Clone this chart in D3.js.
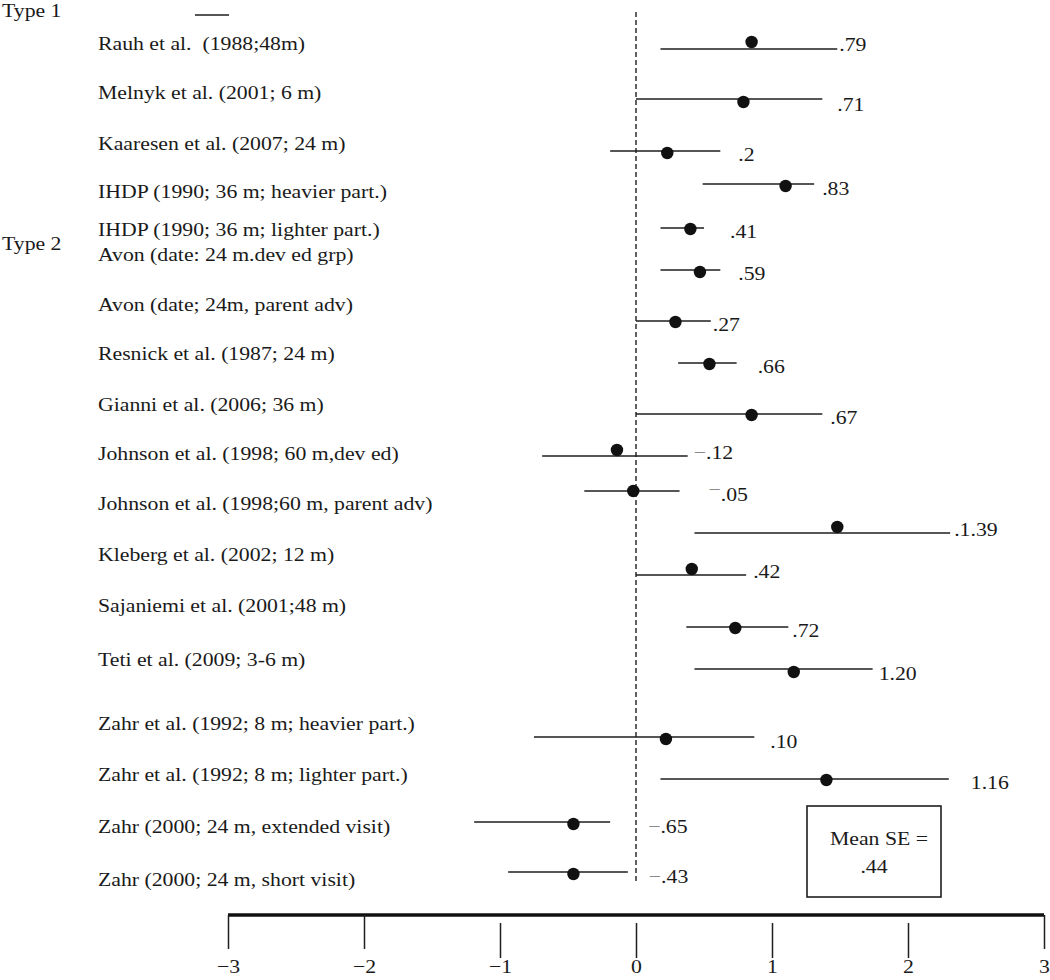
<!DOCTYPE html>
<html>
<head>
<meta charset="utf-8">
<script src="https://cdn.jsdelivr.net/npm/d3@7"></script>
<style>
  html, body { margin: 0; padding: 0; background: #fff; }
  svg { display: block; }
  text { font-family: "Liberation Serif", "Times New Roman", serif; fill: #1a1a1a; }
</style>
</head>
<body>
<svg id="chart" width="1050" height="980"></svg>
<script>
// ---------- data ----------
const groupLabels = ["Type 1", "Type 2"];
const studyLabels = [
  "Rauh et al.  (1988;48m)",
  "Melnyk et al. (2001; 6 m)",
  "Kaaresen et al. (2007; 24 m)",
  "IHDP (1990; 36 m; heavier part.)",
  "IHDP (1990; 36 m; lighter part.)",
  "Avon (date: 24 m.dev ed grp)",
  "Avon (date; 24m, parent adv)",
  "Resnick et al. (1987; 24 m)",
  "Gianni et al. (2006; 36 m)",
  "Johnson et al. (1998; 60 m,dev ed)",
  "Johnson et al. (1998;60 m, parent adv)",
  "Kleberg et al. (2002; 12 m)",
  "Sajaniemi et al. (2001;48 m)",
  "Teti et al. (2009; 3-6 m)",
  "Zahr et al. (1992; 8 m; heavier part.)",
  "Zahr et al. (1992; 8 m; lighter part.)",
  "Zahr (2000; 24 m, extended visit)",
  "Zahr (2000; 24 m, short visit)"
];
// point estimates and interval ends as drawn (effect size units)
const estimates = [0.85, 0.79, 0.23, 1.10, 0.40, 0.47, 0.29, 0.54, 0.85, -0.14, -0.02, 1.48, 0.41, 0.73, 1.16, 0.22, 1.40, -0.46, -0.46];
const ciLow     = [0.18, 0.00, -0.19, 0.49, 0.18, 0.18, 0.00, 0.31, 0.00, -0.69, -0.38, 0.43, 0.00, 0.37, 0.43, -0.75, 0.18, -1.19, -0.94];
const ciHigh    = [1.48, 1.37, 0.62, 1.31, 0.50, 0.62, 0.55, 0.74, 1.37, 0.38, 0.32, 2.31, 0.81, 1.12, 1.74, 0.87, 2.30, -0.19, -0.06];
const valueLabels = [".79", ".71", ".2", ".83", ".41", ".59", ".27", ".66", ".67", "−.12", "−.05", ".1.39", ".42", ".72", "1.20", ".10", "1.16", "−.65", "−.43"];
const xTicks = [-3, -2, -1, 0, 1, 2, 3];
const meanSE = ["Mean SE =", ".44"];

// ---------- layout (pixel positions of the irregular rows) ----------
const studyLabelY = [50, 99, 150, 198, 236, 261, 311, 360, 411, 460, 510, 561, 612, 666, 730, 781, 833, 886];
const groupLabelY = [17, 250];
const lineY  = [49, 99, 151, 184, 228, 270, 321, 363, 414, 456, 491, 533, 575, 627, 669, 737, 779, 822, 872];
const dotY   = [42, 102, 153, 186, 229, 272, 322, 364, 415, 450, 491, 527, 569, 628, 672, 739, 780, 824, 874];
const valueLabelGap = [2, 15, 18, 8, 26, 18, 2, 21, 8, 6, 29, 4, 7, 4, 6, 16, 22, 38, 21];
const valueLabelY = [51, 111, 161, 195, 238, 280, 331, 373, 424, 459, 501, 536, 578, 637, 680, 748, 789, 833, 883];
const stretch = 1.145; // the figure's type is set wider than tall

// ---------- drawing ----------
const svg = d3.select("#chart");
const ink = "#1e1e1e";
const x = d3.scaleLinear().domain([-3, 3]).range([228, 1044]);
const y = d3.scaleIdentity();
const place = (px, py) => `translate(${px},${py}) scale(${stretch},1)`;

// group labels
svg.selectAll("text.group").data(groupLabels).join("text")
  .attr("class", "group")
  .attr("transform", (d, i) => place(2, y(groupLabelY[i])))
  .attr("font-size", 19)
  .text(d => d);

// small rule near Type 1
svg.append("line").attr("x1", 195).attr("x2", 229).attr("y1", 15).attr("y2", 15)
  .attr("stroke", ink).attr("stroke-width", 1.6);

// study labels
svg.selectAll("text.study").data(studyLabels).join("text")
  .attr("class", "study")
  .attr("transform", (d, i) => place(98, y(studyLabelY[i])))
  .attr("font-size", 19)
  .attr("xml:space", "preserve")
  .style("white-space", "pre")
  .text(d => d);

// dashed zero line
svg.append("line")
  .attr("x1", x(0)).attr("x2", x(0)).attr("y1", 12).attr("y2", 882)
  .attr("stroke", ink).attr("stroke-width", 1.4).attr("stroke-dasharray", "5,3");

// intervals
const rows = estimates.map((e, i) => ({ e, lo: ciLow[i], hi: ciHigh[i], label: valueLabels[i], i }));
svg.selectAll("line.ci").data(rows).join("line")
  .attr("class", "ci")
  .attr("x1", d => x(d.lo)).attr("x2", d => x(d.hi))
  .attr("y1", d => y(lineY[d.i])).attr("y2", d => y(lineY[d.i]))
  .attr("stroke", ink).attr("stroke-width", 1.5);

// points
svg.selectAll("circle.pt").data(rows).join("circle")
  .attr("class", "pt")
  .attr("cx", d => x(d.e)).attr("cy", d => y(dotY[d.i]))
  .attr("r", 6.2).attr("fill", "#111");

// value labels
const vl = svg.selectAll("text.val").data(rows).join("text")
  .attr("class", "val")
  .attr("transform", d => place(x(d.hi) + valueLabelGap[d.i], y(valueLabelY[d.i])))
  .attr("font-size", 19);
vl.each(function(d) {
  const t = d3.select(this);
  if (d.label.startsWith("−")) {
    const raised = d.label === "−.05";
    t.append("tspan").attr("fill", "#8a8a8a").attr("dy", raised ? -5 : 0).text("−");
    t.append("tspan").attr("dy", raised ? 5 : 0).text(d.label.slice(1));
  } else {
    t.text(d.label);
  }
});

// Mean SE box
svg.append("rect").attr("x", 807).attr("y", 806).attr("width", 134).attr("height", 91)
  .attr("fill", "none").attr("stroke", ink).attr("stroke-width", 1.6);
svg.selectAll("text.se").data(meanSE).join("text")
  .attr("class", "se")
  .attr("transform", (d, i) => place(i === 0 ? 879 : 874, i === 0 ? 845 : 873))
  .attr("text-anchor", "middle")
  .attr("font-size", 19)
  .text(d => d);

// axis
const axisG = svg.append("g").attr("transform", "translate(0,915)")
  .call(d3.axisBottom(x).tickValues(xTicks).tickSize(35).tickPadding(4).tickFormat(d3.format("d")));
axisG.select(".domain").attr("stroke", "#111").attr("stroke-width", 3.5)
  .attr("d", `M${x(-3)},0H${x(3)}`);
axisG.selectAll(".tick line").attr("stroke", ink).attr("stroke-width", 1.5)
  .attr("y1", d => (d === -3 || d === -2 || d === 3) ? 0 : 8)
  .attr("y2", d => (d === -3 || d === -2 || d === 3) ? 34 : 43);
axisG.selectAll(".tick text")
  .attr("y", null).attr("dy", null)
  .attr("transform", `translate(0,58) scale(${stretch},1)`)
  .attr("font-size", 19)
  .attr("font-family", "Liberation Serif, Times New Roman, serif")
  .attr("fill", "#1a1a1a");
</script>
</body>
</html>
